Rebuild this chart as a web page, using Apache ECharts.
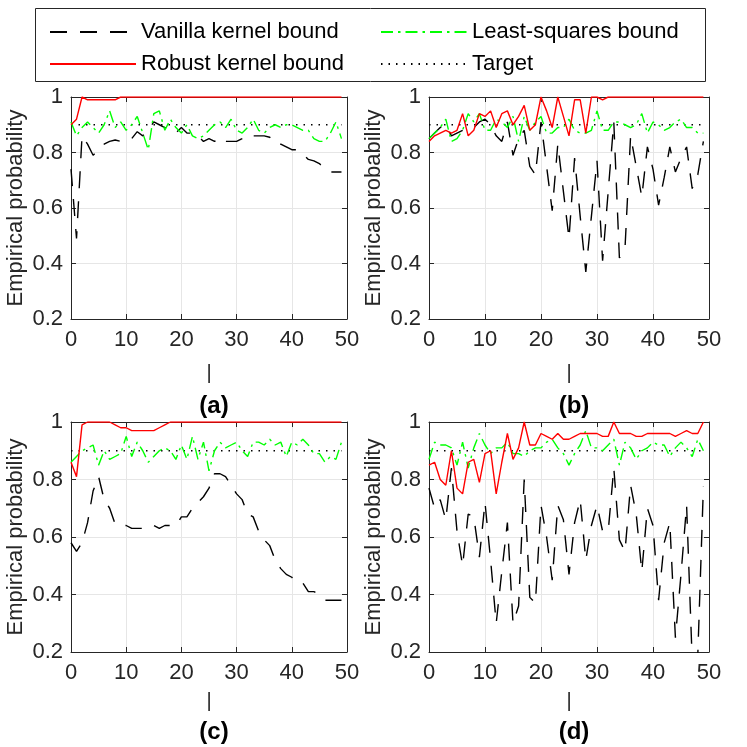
<!DOCTYPE html>
<html>
<head>
<meta charset="utf-8">
<script src="https://cdn.jsdelivr.net/npm/echarts@6/dist/echarts.min.js"></script>
<style>
  html, body { margin: 0; padding: 0; background: #fff; }
  #chart { width: 747px; height: 747px; }
</style>
</head>
<body>
<div id="chart"></div>
<script>
// x positions: sample index 0..49
const xs = [0,1,2,3,4,5,6,7,8,9,10,11,12,13,14,15,16,17,18,19,20,21,22,23,24,
  25,26,27,28,29,30,31,32,33,34,35,36,37,38,39,40,41,42,43,44,45,46,47,48,49];

const targetLevel = 0.9;

// (a)
const vanillaA = [0.74,0.49,0.86,0.83,0.79,0.81,0.83,0.84,0.845,0.84,
  0.84,0.85,0.875,0.86,0.88,0.91,0.90,0.89,0.875,0.87,
  0.89,0.87,0.87,0.86,0.84,0.85,0.84,0.855,0.84,0.84,
  0.84,0.85,0.865,0.86,0.86,0.86,0.855,0.83,0.83,0.82,
  0.81,0.81,0.795,0.775,0.77,0.76,0.74,0.73,0.73,0.73];
const robustA = [0.90,0.92,1,0.99,0.99,0.99,0.99,0.99,0.99,1,
  1,1,1,1,1,1,1,1,1,1,1,1,1,1,1,1,1,1,1,1,
  1,1,1,1,1,1,1,1,1,1,1,1,1,1,1,1,1,1,1,1];
const lsqA = [0.91,0.86,0.89,0.91,0.89,0.87,0.90,0.95,0.89,0.91,
  0.88,0.90,0.93,0.87,0.81,0.94,0.95,0.88,0.92,0.89,
  0.87,0.90,0.86,0.85,0.86,0.88,0.90,0.91,0.89,0.92,
  0.88,0.87,0.89,0.92,0.88,0.87,0.89,0.90,0.89,0.90,
  0.90,0.89,0.88,0.88,0.85,0.84,0.84,0.87,0.91,0.85];

// (b)
const vanillaB = [0.85,0.87,0.89,0.90,0.86,0.87,0.88,0.88,0.89,0.91,
  0.92,0.90,0.86,0.84,0.91,0.79,0.85,0.88,0.75,0.72,
  0.91,0.75,0.59,0.83,0.66,0.49,0.78,0.57,0.37,0.57,
  0.77,0.41,0.66,0.91,0.42,0.455,0.86,0.75,0.64,0.82,
  0.74,0.61,0.71,0.82,0.73,0.78,0.82,0.67,0.72,0.84];
const robustB = [0.84,0.86,0.87,0.88,0.87,0.88,0.94,0.86,0.88,0.94,
  0.93,0.95,0.89,0.94,0.95,0.90,0.93,0.97,0.88,0.90,
  1.0,0.95,0.89,1.0,0.93,0.86,0.99,0.99,0.87,1.0,
  1.0,0.99,1,1,1,1,1,1,1,1,1,1,1,1,1,1,1,1,1,1];
const lsqB = [0.85,0.87,0.89,0.92,0.84,0.85,0.88,0.94,0.91,0.94,
  0.88,0.88,0.92,0.91,0.89,0.93,0.84,0.93,0.88,0.91,
  0.93,0.87,0.87,0.89,0.89,0.92,0.88,0.87,0.87,0.88,
  0.95,0.88,0.88,0.91,0.91,0.90,0.89,0.90,0.94,0.87,
  0.91,0.90,0.88,0.89,0.91,0.92,0.89,0.89,0.87,0.87];

// (c)
const vanillaC = [0.58,0.55,0.58,0.65,0.76,0.81,0.73,0.70,0.645,0.64,
  0.64,0.63,0.63,0.63,0.64,0.64,0.63,0.64,0.64,0.64,
  0.67,0.67,0.70,0.72,0.74,0.77,0.82,0.82,0.81,0.78,
  0.75,0.73,0.68,0.67,0.62,0.59,0.57,0.52,0.49,0.47,
  0.46,0.44,0.44,0.41,0.41,0.40,0.38,0.38,0.38,0.38];
const robustC = [0.86,0.81,0.99,1,1,1,1,1,0.99,0.98,
  0.98,0.97,0.97,0.97,0.97,0.97,0.98,0.99,1,1,
  1,1,1,1,1,1,1,1,1,1,1,1,1,1,1,1,1,1,1,1,
  1,1,1,1,1,1,1,1,1,1];
const lsqC = [0.86,0.88,0.90,0.91,0.92,0.85,0.90,0.87,0.88,0.89,
  0.95,0.88,0.93,0.90,0.86,0.88,0.90,0.91,0.90,0.87,
  0.92,0.87,0.95,0.87,0.93,0.83,0.90,0.93,0.91,0.92,
  0.93,0.90,0.88,0.93,0.93,0.92,0.94,0.92,0.93,0.88,
  0.93,0.92,0.94,0.92,0.89,0.89,0.86,0.88,0.87,0.93];

// (d)
const vanillaD = [0.77,0.70,0.73,0.66,0.84,0.62,0.50,0.68,0.67,0.53,
  0.72,0.52,0.30,0.48,0.65,0.30,0.36,0.80,0.39,0.37,
  0.71,0.60,0.45,0.71,0.66,0.47,0.65,0.73,0.52,0.64,
  0.71,0.62,0.62,0.84,0.59,0.55,0.78,0.68,0.48,0.70,
  0.64,0.38,0.58,0.65,0.25,0.47,0.71,0.17,0.19,0.775];
const robustD = [0.85,0.86,0.80,0.78,0.90,0.77,0.75,0.86,0.87,0.79,
  0.89,0.90,0.75,0.86,0.96,0.87,0.91,1.00,0.92,0.92,
  0.96,0.95,0.94,0.96,0.94,0.94,0.95,0.96,0.96,0.96,
  0.96,0.95,0.95,1.00,0.96,0.96,0.96,0.95,0.95,0.96,
  0.96,0.96,0.96,0.96,0.95,0.96,0.97,0.96,0.96,1.00];
const lsqD = [0.87,0.93,0.92,0.92,0.91,0.85,0.93,0.84,0.91,0.96,
  0.92,0.89,0.91,0.91,0.93,0.89,0.89,0.88,0.90,0.91,
  0.91,0.93,0.94,0.91,0.89,0.85,0.89,0.92,0.97,0.91,
  0.91,0.90,0.92,0.94,0.85,0.93,0.91,0.87,0.90,0.91,
  0.93,0.92,0.92,0.88,0.91,0.93,0.91,0.88,0.94,0.90];

const xTicks = [0, 50, 10];      // min, max, interval
const yTicks = [0.2, 1, 0.2];
const panelNames = ['(a)', '(b)', '(c)', '(d)'];
const seriesNames = ['Vanilla kernel bound', 'Robust kernel bound', 'Least-squares bound', 'Target'];

const panelData = [
  [vanillaA, robustA, lsqA],
  [vanillaB, robustB, lsqB],
  [vanillaC, robustC, lsqC],
  [vanillaD, robustD, lsqD]
];

const FONT = '"Liberation Sans", Arial, Helvetica, sans-serif';
const AX = '#262626';

// panel boxes in pixels
const boxes = [
  { left: 71,  top: 97,  width: 276, height: 222, nameGap: 44, titleY: 389 },
  { left: 429, top: 97,  width: 280, height: 222, nameGap: 44, titleY: 389 },
  { left: 71,  top: 422, width: 276, height: 230, nameGap: 39, titleY: 715 },
  { left: 429, top: 422, width: 280, height: 230, nameGap: 39, titleY: 715 }
];

const pairs = arr => arr.map((v, i) => [xs[i], v]);

const grid = [], xAxis = [], yAxis = [], series = [], title = [];

boxes.forEach((b, k) => {
  grid.push({ left: b.left, top: b.top, width: b.width, height: b.height, containLabel: false });

  title.push({
    text: panelNames[k],
    left: b.left + b.width / 2,
    top: b.titleY,
    textAlign: 'center',
    textStyle: { fontFamily: FONT, fontSize: 24, fontWeight: 'bold', color: '#000' }
  });

  // bottom x axis
  xAxis.push({
    type: 'value', gridIndex: k, position: 'bottom',
    min: xTicks[0], max: xTicks[1], interval: xTicks[2],
    name: '|', nameLocation: 'middle', nameGap: b.nameGap,
    nameTextStyle: { fontFamily: FONT, fontSize: 20, color: AX },
    axisLine: { show: true, onZero: false, lineStyle: { color: AX, width: 1 } },
    axisTick: { show: true, inside: true, length: 5, lineStyle: { color: AX } },
    axisLabel: { fontFamily: FONT, fontSize: 22, color: AX, margin: 10 },
    splitLine: { show: true, lineStyle: { color: '#e6e6e6', width: 1 } }
  });
  // top x axis (box)
  xAxis.push({
    type: 'value', gridIndex: k, position: 'top',
    min: xTicks[0], max: xTicks[1], interval: xTicks[2],
    axisLine: { show: true, onZero: false, lineStyle: { color: AX, width: 1 } },
    axisTick: { show: true, inside: true, length: 5, lineStyle: { color: AX } },
    axisLabel: { show: false },
    splitLine: { show: false }
  });
  // left y axis
  yAxis.push({
    type: 'value', gridIndex: k, position: 'left',
    min: yTicks[0], max: yTicks[1], interval: yTicks[2],
    name: 'Empirical probability', nameLocation: 'middle', nameGap: 44,
    nameTextStyle: { fontFamily: FONT, fontSize: 22, color: AX },
    axisLine: { show: true, onZero: false, lineStyle: { color: AX, width: 1 } },
    axisTick: { show: true, inside: true, length: 5, lineStyle: { color: AX } },
    axisLabel: {
      fontFamily: FONT, fontSize: 22, color: AX, margin: 8,
      formatter: v => (Math.abs(v - 1) < 1e-9 ? '1' : v.toFixed(1))
    },
    splitLine: { show: true, lineStyle: { color: '#e6e6e6', width: 1 } }
  });
  // right y axis (box)
  yAxis.push({
    type: 'value', gridIndex: k, position: 'right',
    min: yTicks[0], max: yTicks[1], interval: yTicks[2],
    axisLine: { show: true, onZero: false, lineStyle: { color: AX, width: 1 } },
    axisTick: { show: true, inside: true, length: 5, lineStyle: { color: AX } },
    axisLabel: { show: false },
    splitLine: { show: false }
  });

  const [van, rob, lsq] = panelData[k];
  const common = { type: 'line', xAxisIndex: 2 * k, yAxisIndex: 2 * k, symbol: 'none', showSymbol: false, animation: false, clip: true };
  series.push(Object.assign({}, common, {
    name: seriesNames[0], data: pairs(van), z: 3,
    lineStyle: { color: '#000', width: 1.4, type: [17, 13] }, itemStyle: { color: '#000' }
  }));
  series.push(Object.assign({}, common, {
    name: seriesNames[1], data: pairs(rob), z: 5,
    lineStyle: { color: '#ff0000', width: 1.4, type: 'solid' }, itemStyle: { color: '#ff0000' }
  }));
  series.push(Object.assign({}, common, {
    name: seriesNames[2], data: pairs(lsq), z: 4,
    lineStyle: { color: '#00ff00', width: 1.4, type: [12, 5, 2.5, 5] }, itemStyle: { color: '#00ff00' }
  }));
  series.push(Object.assign({}, common, {
    name: seriesNames[3], data: [[xs[0], targetLevel], [xs[xs.length - 1], targetLevel]], z: 2,
    lineStyle: { color: '#000', width: 1.5, type: [1.5, 6] }, itemStyle: { color: '#000' }
  }));
});

const legendCommon = {
  orient: 'vertical', itemWidth: 86, itemHeight: 14, itemGap: 10,
  itemStyle: { opacity: 0 },
  textStyle: { fontFamily: FONT, fontSize: 22, color: '#000' },
  selectedMode: false
};

const option = {
  backgroundColor: '#fff',
  animation: false,
  title,
  legend: [
    Object.assign({}, legendCommon, { left: 44, top: 16, data: [seriesNames[0], seriesNames[1]] }),
    Object.assign({}, legendCommon, { left: 375, top: 16, data: [seriesNames[2], seriesNames[3]] })
  ],
  graphic: [{
    type: 'rect', silent: true,
    shape: { x: 35.5, y: 8.5, width: 670, height: 73 },
    style: { fill: 'none', stroke: AX, lineWidth: 1 }
  }],
  grid, xAxis, yAxis, series
};

const chart = echarts.init(document.getElementById('chart'), null, { renderer: 'canvas' });
chart.setOption(option);
</script>
</body>
</html>
